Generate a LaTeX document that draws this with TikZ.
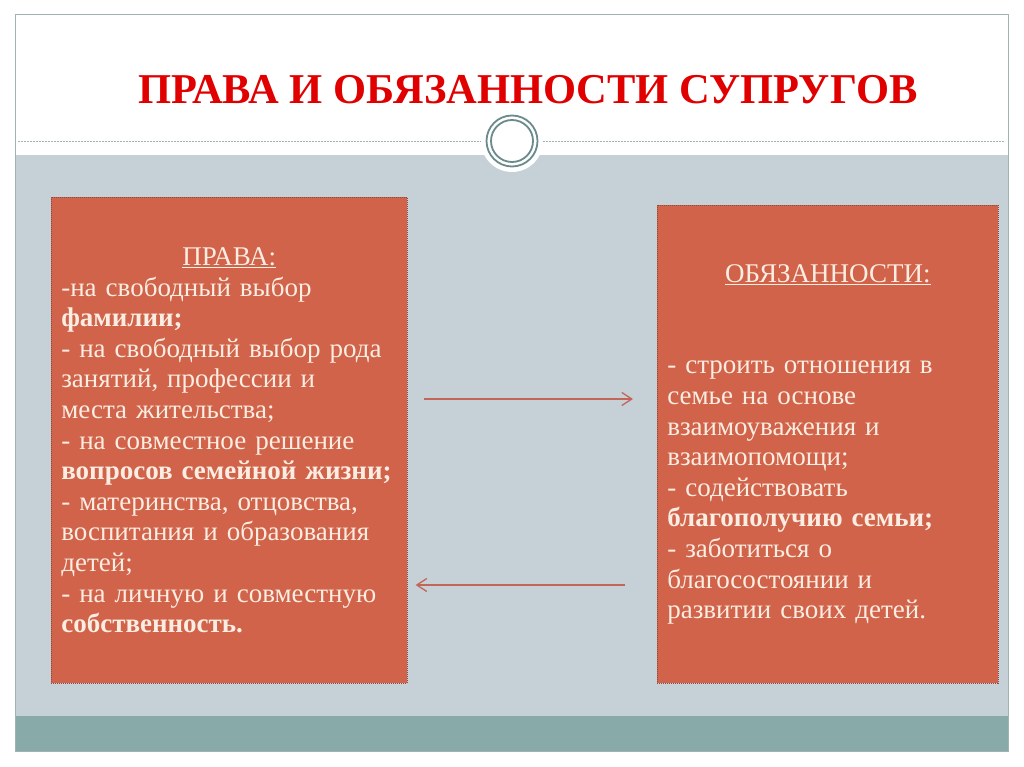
\documentclass[tikz,border=0pt]{standalone}
\usepackage{fontspec}
\setmainfont{Liberation Serif}
\usetikzlibrary{arrows.meta,positioning}
\definecolor{slidegray}{HTML}{C5D1D6}
\definecolor{slideteal}{HTML}{88AAA8}
\definecolor{framegray}{HTML}{9FB3B3}
\definecolor{ringgray}{HTML}{6B8A8A}
\definecolor{boxred}{HTML}{D0634A}
\definecolor{boxedge}{HTML}{8E4A3B}
\definecolor{boxtext}{HTML}{FBEDE2}
\definecolor{arrred}{HTML}{C4655A}
\definecolor{titlered}{HTML}{E00000}
\tikzset{
  infobox/.style={draw=boxedge, line width=0.6pt, dash pattern=on 1pt off 1pt,
    fill=boxred, text=boxtext, inner sep=10pt, anchor=north west, align=left,
    font=\fontsize{27}{30.6}\selectfont},
  arr/.style={draw=arrred, line width=1.3pt, -{Straight Barb[length=10pt,width=13pt]}}
}
\begin{document}
\begin{tikzpicture}[x=1pt,y=-1pt]
  \useasboundingbox (0,0) rectangle (1024,767);
  % slide background
  \fill[slidegray] (15,155) rectangle (1008,716);
  \fill[slideteal] (15,716) rectangle (1008,751);
  \draw[framegray, line width=1pt] (15,15) rectangle (1008,751);
  \draw[framegray, line width=0.8pt, dash pattern=on 2pt off 1pt] (18,141.5) -- (1005,141.5);
  % ring
  \fill[white] (512,141) circle (31);
  \draw[ringgray, line width=1.8pt] (512,141) circle (25.5);
  \draw[ringgray, line width=1.8pt] (512,141) circle (21);
  \node[anchor=center, text=titlered, font=\fontsize{42.5}{50}\selectfont\bfseries] at (528,90) (title) {ПРАВА И ОБЯЗАННОСТИ СУПРУГОВ};
  % boxes
  \node[infobox, text width=336pt, minimum height=486pt] at (51,197) (prava) {%
    \centerline{\underline{ПРАВА:}}
    -на свободный выбор\\
    \textbf{фамилии;}\\
    - на свободный выбор рода\\
    занятий, профессии и\\
    места жительства;\\
    - на совместное решение\\
    \textbf{вопросов семейной жизни;}\\
    - материнства, отцовства,\\
    воспитания и образования\\
    детей;\\
    - на личную и совместную\\
    \textbf{собственность.}};
  \node[infobox, text width=321pt, minimum height=478pt] at (657,205) (obyaz) {%
    \centerline{\underline{ОБЯЗАННОСТИ:}}\\[61.2pt]
    - строить отношения в\\
    семье на основе\\
    взаимоуважения и\\
    взаимопомощи;\\
    - содействовать\\
    \textbf{благополучию семьи;}\\
    - заботиться о\\
    благосостоянии и\\
    развитии своих детей.};
  % arrows
  \coordinate (upper) at (0,399);
  \coordinate (lower) at (0,585);
  \draw[arr, shorten <=16pt, shorten >=24pt] (prava.east |- upper) -- (obyaz.west |- upper);
  \draw[arr, shorten <=32pt, shorten >=8pt] (obyaz.west |- lower) -- (prava.east |- lower);
\end{tikzpicture}
\end{document}
